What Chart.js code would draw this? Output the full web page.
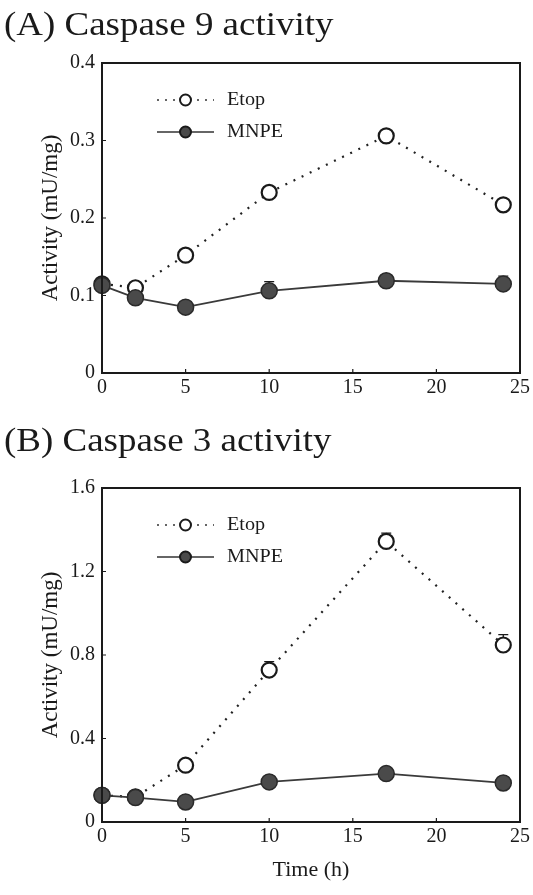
<!DOCTYPE html>
<html>
<head>
<meta charset="utf-8">
<script src="https://cdn.jsdelivr.net/npm/chart.js@4"></script>
<style>
  body { margin: 0; background: #fff; width: 533px; height: 895px; position: relative; overflow: hidden; }
  canvas { position: absolute; left: 0; }
</style>
</head>
<body>
<canvas id="chartA" width="533" height="410" style="top:0"></canvas>
<canvas id="chartB" width="533" height="485" style="top:410px"></canvas>
<script>
const hours = [0, 2, 5, 10, 17, 24];

// Caspase 9
const casp9Etop = [0.115, 0.11, 0.152, 0.233, 0.306, 0.217];
const casp9EtopErr = [0, 0.005, 0, 0.005, 0.005, 0];
const casp9Mnpe = [0.113, 0.097, 0.085, 0.106, 0.119, 0.115];
const casp9MnpeErr = [0, 0, 0, 0.012, 0, 0.01];
const casp9Ticks = [0, 0.1, 0.2, 0.3, 0.4];

// Caspase 3
const casp3Etop = [0.128, 0.12, 0.272, 0.728, 1.344, 0.848];
const casp3EtopErr = [0, 0, 0.02, 0.04, 0.04, 0.05];
const casp3Mnpe = [0.128, 0.117, 0.096, 0.192, 0.232, 0.187];
const casp3MnpeErr = [0, 0, 0, 0.03, 0.03, 0.03];
const casp3Ticks = [0, 0.4, 0.8, 1.2, 1.6];

const timeTicks = [0, 5, 10, 15, 20, 25];

const serif = "Liberation Serif";
const ink = "#1a1a1a";

// panel heading, box around the plot, inward tick marks, error bars and the inset legend
const decorations = {
  id: "decorations",
  beforeDatasetsDraw(chart) {
    const ctx = chart.ctx;
    const { x, y } = chart.scales;
    ctx.save();
    ctx.strokeStyle = ink;
    ctx.lineWidth = 1.3;
    chart.data.datasets.forEach((ds) => {
      ds.errors.forEach((e, i) => {
        if (!e) return;
        const px = x.getPixelForValue(hours[i]);
        const y0 = y.getPixelForValue(ds.data[i].y);
        const y1 = y.getPixelForValue(ds.data[i].y + e);
        ctx.beginPath();
        ctx.moveTo(px, y0);
        ctx.lineTo(px, y1);
        ctx.moveTo(px - 5, y1);
        ctx.lineTo(px + 5, y1);
        ctx.stroke();
      });
    });
    ctx.restore();
  },
  afterDraw(chart, args, opts) {
    const ctx = chart.ctx;
    const a = chart.chartArea;
    const { x, y } = chart.scales;
    ctx.save();

    // heading, drawn slightly wide
    ctx.fillStyle = ink;
    ctx.font = "33px " + serif;
    ctx.textBaseline = "alphabetic";
    ctx.save();
    ctx.translate(4, opts.headingY);
    ctx.scale(1.12, 1);
    ctx.fillText(opts.heading, 0, 0);
    ctx.restore();

    ctx.strokeStyle = ink;
    ctx.lineWidth = 2;
    ctx.strokeRect(a.left, a.top, a.right - a.left, a.bottom - a.top);
    ctx.lineWidth = 1.2;
    ctx.beginPath();
    x.ticks.forEach((t) => {
      const px = x.getPixelForValue(t.value);
      ctx.moveTo(px, a.bottom);
      ctx.lineTo(px, a.bottom - 4);
    });
    y.ticks.forEach((t) => {
      const py = y.getPixelForValue(t.value);
      ctx.moveTo(a.left, py);
      ctx.lineTo(a.left + 4, py);
    });
    ctx.stroke();

    // legend
    const lx0 = a.left + 55, lx1 = a.left + 112, lm = (lx0 + lx1) / 2;
    const rows = [
      { label: "Etop", dash: [2, 6], fill: "#ffffff", y: a.top + 37 },
      { label: "MNPE", dash: [], fill: "#4a4a4a", y: a.top + 69 }
    ];
    ctx.font = "18px " + serif;
    ctx.textBaseline = "middle";
    rows.forEach((r) => {
      ctx.setLineDash(r.dash);
      ctx.lineWidth = 1.6;
      ctx.strokeStyle = "#333";
      ctx.beginPath();
      ctx.moveTo(lx0, r.y);
      ctx.lineTo(lx1, r.y);
      ctx.stroke();
      ctx.setLineDash([]);
      ctx.beginPath();
      ctx.arc(lm, r.y, 5.5, 0, Math.PI * 2);
      ctx.fillStyle = r.fill;
      ctx.fill();
      ctx.lineWidth = 2;
      ctx.strokeStyle = ink;
      ctx.stroke();
      ctx.fillStyle = ink;
      ctx.save();
      ctx.translate(lx1 + 13, r.y);
      ctx.scale(1.12, 1);
      ctx.fillText(r.label, 0, 0);
      ctx.restore();
    });
    ctx.restore();
  }
};

function makeChart(id, etop, etopErr, mnpe, mnpeErr, yTicks, opts) {
  const yMax = yTicks[yTicks.length - 1];
  return new Chart(document.getElementById(id), {
    type: "line",
    data: {
      datasets: [
        {
          label: "MNPE",
          data: mnpe,
          errors: mnpeErr,
          order: 0,
          borderColor: "#3a3a3a",
          borderWidth: 1.8,
          pointRadius: 8,
          pointBackgroundColor: "#4a4a4a",
          pointBorderColor: "#2a2a2a",
          pointBorderWidth: 1.5,
          tension: 0
        },
        {
          label: "Etop",
          data: etop,
          errors: etopErr,
          order: 1,
          borderColor: "#222",
          borderWidth: 2.2,
          borderDash: [2, 7],
          pointRadius: 7.5,
          pointBackgroundColor: "#ffffff",
          pointBorderColor: ink,
          pointBorderWidth: 2.2,
          tension: 0
        }
      ].map((ds) => ({ ...ds, data: ds.data.map((v, i) => ({ x: hours[i], y: v })) }))
    },
    options: {
      responsive: false,
      animation: false,
      clip: false,
      layout: { padding: { top: opts.top, left: 33, right: 9, bottom: opts.bottom } },
      plugins: {
        legend: { display: false },
        tooltip: { enabled: false },
        decorations: { heading: opts.heading, headingY: opts.headingY }
      },
      scales: {
        x: {
          type: "linear",
          min: 0,
          max: 25,
          afterBuildTicks: (s) => { s.ticks = timeTicks.map((v) => ({ value: v })); },
          afterFit: (s) => { s.height = opts.xHeight; },
          grid: { display: false, drawTicks: false },
          border: { display: false },
          ticks: { color: ink, padding: 3, font: { family: serif, size: 20 } },
          title: {
            display: opts.showTime,
            text: "Time (h)",
            color: ink,
            padding: { top: 0 },
            font: { family: serif, size: 22 }
          }
        },
        y: {
          min: 0,
          max: yMax,
          afterBuildTicks: (s) => { s.ticks = yTicks.map((v) => ({ value: v })); },
          afterFit: (s) => { s.width = 69; },
          grid: { display: false, drawTicks: false },
          border: { display: false },
          ticks: { color: ink, padding: 7, font: { family: serif, size: 20 } },
          title: {
            display: true,
            text: "Activity (mU/mg)",
            color: ink,
            padding: { bottom: 4 },
            font: { family: serif, size: 23 }
          }
        }
      }
    },
    plugins: [decorations]
  });
}

makeChart("chartA", casp9Etop, casp9EtopErr, casp9Mnpe, casp9MnpeErr, casp9Ticks,
  { top: 63, bottom: 0, xHeight: 37, showTime: false, heading: "(A) Caspase 9 activity", headingY: 35 });
makeChart("chartB", casp3Etop, casp3EtopErr, casp3Mnpe, casp3MnpeErr, casp3Ticks,
  { top: 78, bottom: 8, xHeight: 65, showTime: true, heading: "(B) Caspase 3 activity", headingY: 41 });
</script>
</body>
</html>
